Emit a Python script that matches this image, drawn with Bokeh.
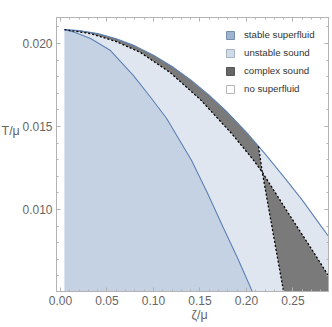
from bokeh.plotting import figure
from bokeh.models import (Range1d, FixedTicker, PrintfTickFormatter, LinearAxis,
                          Legend, LegendItem, Label)
from bokeh.embed import file_html
from bokeh.resources import INLINE

# outer boundary (no superfluid above/right)
zeta_outer = [0.0043, 0.02, 0.04, 0.06, 0.08, 0.10, 0.12, 0.14, 0.16, 0.18, 0.20,
              0.22, 0.24, 0.26, 0.28, 0.2882]
T_outer = [0.02085, 0.02079, 0.0206, 0.02029, 0.01986, 0.0193, 0.01862, 0.01781,
           0.01688, 0.01583, 0.01465, 0.01335, 0.01198, 0.01057, 0.00901, 0.00839]

# stable superfluid boundary
zeta_stable = [0.0043, 0.015, 0.0323, 0.0538, 0.0785, 0.095, 0.114, 0.141, 0.158,
               0.175, 0.191, 0.2075]
T_stable = [0.02084, 0.02068, 0.0203, 0.01958, 0.01807, 0.0169, 0.0155, 0.01295,
            0.0110, 0.00892, 0.0070, 0.0049]

# complex-sound boundary A (dashed)
zeta_a = [0.0043, 0.0323, 0.06, 0.086, 0.118, 0.1505, 0.184, 0.2075, 0.217, 0.245,
          0.271, 0.2882]
T_a = [0.02084, 0.0206, 0.02012, 0.01946, 0.01825, 0.01662, 0.01458, 0.01298,
       0.01225, 0.00978, 0.00753, 0.0060]

# complex-sound boundary B (dashed)
zeta_b = [0.2129, 0.217, 0.2237, 0.2413]
T_b = [0.01381, 0.01225, 0.01012, 0.0046]

x_ticks = [0.00, 0.05, 0.10, 0.15, 0.20, 0.25]
y_ticks = [0.010, 0.015, 0.020]
legend_labels = ["stable superfluid", "unstable sound", "complex sound", "no superfluid"]

X_MIN, X_MAX = -0.0043, 0.2882
Y_MIN, Y_MAX = 0.00506, 0.02157
FLOOR = 0.0046

BLUE = "#5e81b5"
LIGHT = "#dfe6f0"
STABLE = "#c5d2e4"
DARK = "#7a7a7a"
FRAME = "#b3b3b3"
TXT = "#666666"

p = figure(frame_width=272, frame_height=274, output_backend="svg",
           toolbar_location=None, x_range=Range1d(X_MIN, X_MAX),
           y_range=Range1d(Y_MIN, Y_MAX), min_border_left=56,
           min_border_right=4, min_border_top=17, min_border_bottom=36)
p.grid.visible = False
p.outline_line_color = FRAME
p.background_fill_color = "white"

# fills
p.varea(x=zeta_outer, y1=FLOOR, y2=T_outer, fill_color=LIGHT)
p.varea(x=zeta_stable, y1=FLOOR, y2=T_stable, fill_color=STABLE)

n_x = zeta_a.index(0.217)
upper_x = zeta_a[:n_x + 1] + [zeta_b[0]]
upper_y = T_a[:n_x + 1] + [T_b[0]]
for zx, ty in reversed(list(zip(zeta_outer, T_outer))):
    if zx < zeta_b[0]:
        upper_x.append(zx)
        upper_y.append(ty)
lower_x = [zeta_b[1]] + zeta_a[n_x + 1:] + [zeta_a[-1], zeta_b[-1], zeta_b[2]]
lower_y = [T_b[1]] + T_a[n_x + 1:] + [FLOOR, FLOOR, T_b[2]]
p.patches(xs=[upper_x, lower_x], ys=[upper_y, lower_y], fill_color=DARK,
          line_color=None)

# lines
p.line(zeta_outer, T_outer, line_color=BLUE, line_width=1.1)
p.line(zeta_stable, T_stable, line_color=BLUE, line_width=1.1)
p.line(zeta_a, T_a, line_color="black", line_width=1.3, line_dash="2 2")
p.line(zeta_b, T_b, line_color="black", line_width=1.3, line_dash="2 2")

# axes
x_minor = [round(0.01 * i, 3) for i in range(0, 29)]
y_minor = [round(0.001 * i, 4) for i in range(5, 22)]


def style(ax, ticks, minor, fmt, labels=True):
    ax.ticker = FixedTicker(ticks=ticks, minor_ticks=minor)
    ax.formatter = PrintfTickFormatter(format=fmt)
    ax.axis_line_color = FRAME
    ax.major_tick_line_color = FRAME
    ax.minor_tick_line_color = FRAME
    ax.major_tick_in = 4
    ax.major_tick_out = 0
    ax.minor_tick_in = 2
    ax.minor_tick_out = 0
    ax.major_label_text_color = TXT
    ax.major_label_text_font = "Liberation Sans"
    ax.major_label_text_font_size = "12px"
    ax.major_label_standoff = 4
    if not labels:
        ax.major_label_overrides = {t: "" for t in ticks}
        ax.major_label_standoff = 0


style(p.xaxis[0], x_ticks, x_minor, "%.2f")
style(p.yaxis[0], y_ticks, y_minor, "%.3f")
top = LinearAxis()
right = LinearAxis()
style(top, x_ticks, x_minor, "%.2f", labels=False)
style(right, y_ticks, y_minor, "%.3f", labels=False)
p.add_layout(top, "above")
p.add_layout(right, "right")

# axis titles in side panels
p.add_layout(Label(x=0, y=161, x_units="screen", y_units="screen", text="T/μ",
                   text_font="Liberation Sans", text_font_size="12.5px",
                   text_color=TXT, text_baseline="middle", text_align="left"),
             "left")
p.add_layout(Label(x=143, y=7, x_units="screen", y_units="screen", text="ζ/μ",
                   text_font="Liberation Sans", text_font_size="12.5px",
                   text_color=TXT, text_baseline="middle", text_align="center"),
             "below")

# legend swatches
nan = float("nan")
sw_fill = ["#9db4d0", "#cfdbe9", "#666666", "#ffffff"]
sw_line = ["#7a8fae", "#a9b4c2", "#555555", "#b5b5b5"]
items = []
for lab, fc, lc in zip(legend_labels, sw_fill, sw_line):
    r = p.quad(left=[nan], right=[nan], top=[nan], bottom=[nan], fill_color=fc,
               line_color=lc)
    items.append(LegendItem(label=lab, renderers=[r]))
leg = Legend(items=items, location=(164, 192), margin=0, padding=5,
             glyph_width=10, glyph_height=10, label_height=10, spacing=7,
             label_standoff=9, label_text_font="Liberation Sans",
             label_text_font_size="9.7px", label_text_color="#333333",
             background_fill_alpha=0, border_line_alpha=0)
p.add_layout(leg, "center")

open("out.html", "w").write(file_html(p, INLINE))
